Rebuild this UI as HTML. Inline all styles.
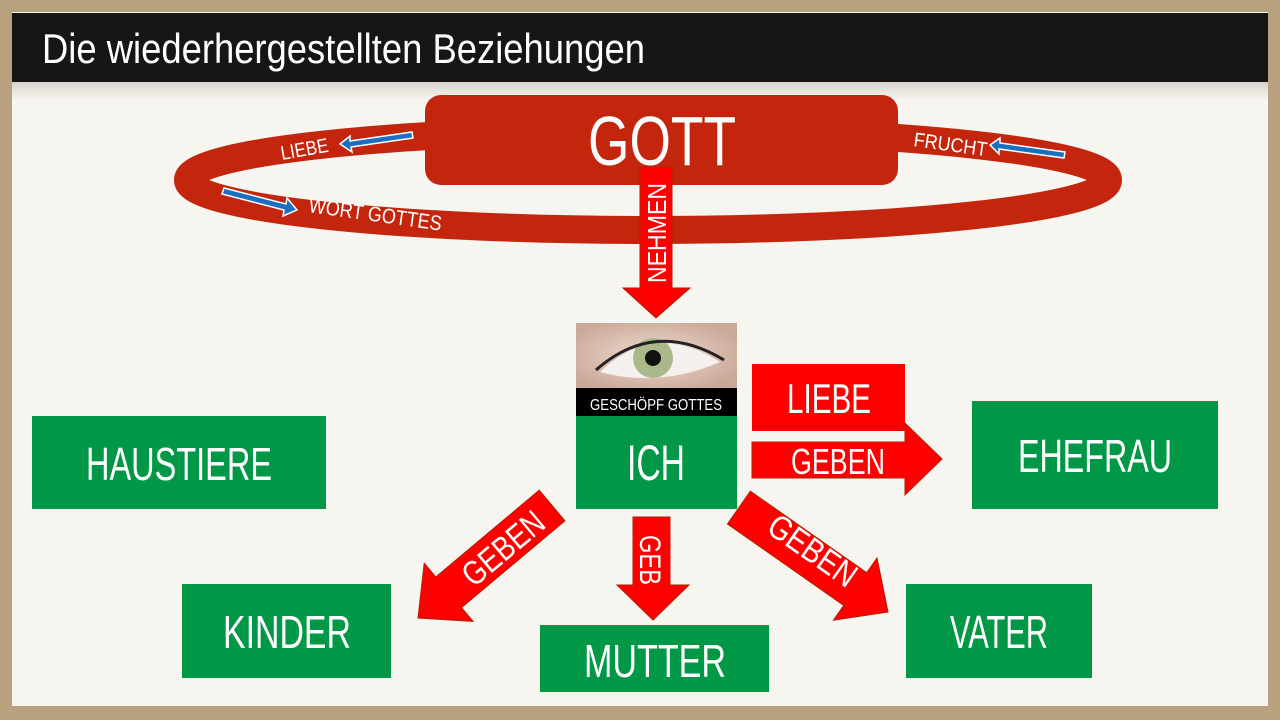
<!DOCTYPE html>
<html><head><meta charset="utf-8"><style>
html,body{margin:0;padding:0;width:1280px;height:720px;overflow:hidden;background:#b8a27e}
svg{display:block}
text{font-family:"Liberation Sans Narrow","Liberation Sans",sans-serif;fill:#fff}
</style></head><body>
<svg width="1280" height="720" viewBox="0 0 1280 720">
<defs>
<linearGradient id="sh" x1="0" y1="0" x2="0" y2="1"><stop offset="0" stop-color="#d8d4cc"/><stop offset="1" stop-color="#f7f5f0"/></linearGradient>
<radialGradient id="eye" cx="0.48" cy="0.5" r="0.6"><stop offset="0" stop-color="#f0dcd0"/><stop offset="1" stop-color="#c9a898"/></radialGradient>
</defs>
<rect x="0" y="0" width="1280" height="720" fill="#b8a27e"/>
<rect x="12" y="12" width="1256" height="694" fill="#f7f5f0"/>
<rect x="12" y="82" width="1256" height="18" fill="url(#sh)"/>
<rect x="12" y="13" width="1256" height="69" fill="#181614"/>
<text x="42" y="63" font-size="42" textLength="603" lengthAdjust="spacingAndGlyphs">Die wiederhergestellten Beziehungen</text>

<!-- ring -->
<ellipse cx="648" cy="180" rx="460" ry="50" fill="none" stroke="#c4260d" stroke-width="28"/>
<rect x="425" y="95" width="473" height="90" rx="16" fill="#c4260d"/>
<text x="662" y="165" font-size="70" text-anchor="middle" textLength="148" lengthAdjust="spacingAndGlyphs">GOTT</text>
<text x="282" y="160" font-size="20" transform="rotate(-10 282 160)" textLength="48" lengthAdjust="spacingAndGlyphs">LIEBE</text>
<polygon points="340,144 350,136 350,141 412,132 413,138 351,147 352,152" fill="#1a6fc0" stroke="#fff" stroke-width="1.5"/>
<text x="913" y="146" font-size="20" transform="rotate(8 913 146)" textLength="74" lengthAdjust="spacingAndGlyphs">FRUCHT</text>
<polygon points="990,145 1000,138 1000,143 1065,152 1064,158 999,149 999,154" fill="#1a6fc0" stroke="#fff" stroke-width="1.5"/>
<polygon points="224,188 286,204 287,198 297,210 283,216 284,210 222,194" fill="#1a6fc0" stroke="#fff" stroke-width="1.5"/>
<text x="308" y="212" font-size="21" transform="rotate(8 308 212)" textLength="134" lengthAdjust="spacingAndGlyphs">WORT GOTTES</text>

<!-- NEHMEN arrow -->
<polygon points="640,167 672,167 672,288 690,288 656,318 623,288 640,288" fill="#f00" stroke="#b02000" stroke-width="1"/>
<text x="0" y="0" font-size="26" transform="translate(666,283) rotate(-90)" textLength="100" lengthAdjust="spacingAndGlyphs">NEHMEN</text>

<!-- eye -->
<rect x="576" y="323" width="161" height="65" fill="url(#eye)"/>
<path d="M600,372 Q655,320 720,362 Q660,388 600,372Z" fill="#f4f0ee"/>
<circle cx="653" cy="358" r="20" fill="#a9b98a"/>
<circle cx="653" cy="358" r="8" fill="#111"/>
<path d="M596,370 Q655,318 724,360" fill="none" stroke="#222" stroke-width="3"/>
<rect x="576" y="388" width="161" height="28" fill="#000"/>
<text x="656" y="410" font-size="16" text-anchor="middle" textLength="132" lengthAdjust="spacingAndGlyphs">GESCHÖPF GOTTES</text>
<rect x="576" y="416" width="161" height="93" fill="#009846"/>
<text x="656" y="480" font-size="50" text-anchor="middle" textLength="58" lengthAdjust="spacingAndGlyphs">ICH</text>

<!-- LIEBE GEBEN -->
<rect x="752" y="364" width="153" height="67" fill="#f00"/>
<text x="829" y="413" font-size="42" text-anchor="middle" textLength="84" lengthAdjust="spacingAndGlyphs">LIEBE</text>
<polygon points="752,442 905,442 905,423 942,459 905,495 905,478 752,478" fill="#f00" stroke="#b02000" stroke-width="1"/>
<text x="838" y="474" font-size="36" text-anchor="middle" textLength="94" lengthAdjust="spacingAndGlyphs">GEBEN</text>

<!-- GEB down -->
<polygon points="633,517 670,517 670,585 689,585 653,620 617,585 633,585" fill="#f00" stroke="#b02000" stroke-width="1"/>
<text x="0" y="0" font-size="30" transform="translate(640,535) rotate(90)" textLength="50" lengthAdjust="spacingAndGlyphs">GEB</text>

<!-- left diagonal -->
<g transform="translate(418,618) rotate(-40)">
<polygon points="0,0 40,-38 40,-20 175,-20 175,20 40,20 40,38" fill="#f00" stroke="#b02000" stroke-width="1"/>
<text x="110" y="13" font-size="34" text-anchor="middle" textLength="96" lengthAdjust="spacingAndGlyphs">GEBEN</text>
</g>
<!-- right diagonal -->
<g transform="translate(888,612) rotate(-145)">
<polygon points="0,0 40,-38 40,-20 182,-20 182,20 40,20 40,38" fill="#f00" stroke="#b02000" stroke-width="1"/>
</g>
<text x="0" y="0" font-size="34" text-anchor="middle" textLength="100" lengthAdjust="spacingAndGlyphs" transform="translate(806,560) rotate(35)">GEBEN</text>

<!-- boxes -->
<rect x="972" y="401" width="246" height="108" fill="#009846"/>
<text x="1095" y="472" font-size="46" text-anchor="middle" textLength="154" lengthAdjust="spacingAndGlyphs">EHEFRAU</text>
<rect x="32" y="416" width="294" height="93" fill="#009846"/>
<text x="179" y="480" font-size="46" text-anchor="middle" textLength="186" lengthAdjust="spacingAndGlyphs">HAUSTIERE</text>
<rect x="182" y="584" width="209" height="94" fill="#009846"/>
<text x="287" y="648" font-size="46" text-anchor="middle" textLength="128" lengthAdjust="spacingAndGlyphs">KINDER</text>
<rect x="540" y="625" width="229" height="67" fill="#009846"/>
<text x="655" y="677" font-size="46" text-anchor="middle" textLength="142" lengthAdjust="spacingAndGlyphs">MUTTER</text>
<rect x="906" y="584" width="186" height="94" fill="#009846"/>
<text x="999" y="648" font-size="46" text-anchor="middle" textLength="98" lengthAdjust="spacingAndGlyphs">VATER</text>
</svg>
</body></html>
